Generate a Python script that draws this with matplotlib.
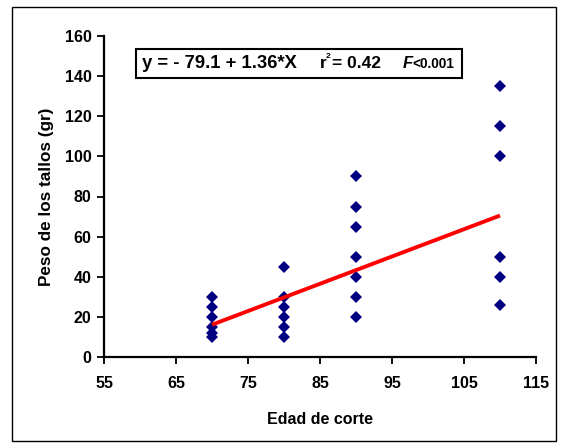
import matplotlib
matplotlib.use("Agg")
import matplotlib.pyplot as plt
import numpy as np
from matplotlib.patches import Rectangle

plt.rcParams['font.family'] = ['Liberation Sans', 'DejaVu Sans']

# Cutting age (days) and stem weight (g)
edad = [70, 70, 70, 70, 70, 70,
        80, 80, 80, 80, 80, 80,
        90, 90, 90, 90, 90, 90, 90,
        110, 110, 110, 110, 110, 110]
peso = [30, 25, 20, 15, 12, 10,
        45, 30, 25, 20, 15, 10,
        90, 75, 65, 50, 40, 30, 20,
        135, 115, 100, 50, 40, 26]

# Fitted regression
intercepto = -79.1
pendiente = 1.36
x_ajuste = [70, 110]

x_ticks = [55, 65, 75, 85, 95, 105, 115]
y_ticks = [0, 20, 40, 60, 80, 100, 120, 140, 160]

W, H = 563, 447
fig = plt.figure(figsize=(W / 100, H / 100), dpi=100)

# outer frame
fig.patches.append(Rectangle((12 / W, 1 - 441 / H), (556 - 12) / W, (441 - 7) / H,
                             transform=fig.transFigure, fill=False,
                             edgecolor='black', linewidth=1.0))

ax = fig.add_axes([104 / W, 1 - 357 / H, (536 - 104) / W, (357 - 36) / H])

xf = np.array(x_ajuste, dtype=float)
ax.plot(xf, intercepto + pendiente * xf, color='#ff0000', linewidth=2.8,
        solid_capstyle='butt', zorder=3)
ax.plot(edad, peso, linestyle='none', marker='D', markersize=6.2,
        color='#000080', markeredgewidth=0, zorder=2)

ax.set_xlim(55, 115)
ax.set_ylim(0, 160)
ax.set_xticks(x_ticks)
ax.set_yticks(y_ticks)
ax.spines['top'].set_visible(False)
ax.spines['right'].set_visible(False)
for s in ('left', 'bottom'):
    ax.spines[s].set_linewidth(1.6)
ax.tick_params(direction='out', length=5, width=1.3, labelsize=11.5, pad=4)
ax.tick_params(axis='x', pad=9)
for lab in ax.get_xticklabels() + ax.get_yticklabels():
    lab.set_fontweight('bold')

ax.set_xlabel('Edad de corte', fontsize=11.5, fontweight='bold', labelpad=15)
ax.set_ylabel('Peso de los tallos (gr)', fontsize=12.3, fontweight='bold', labelpad=8)

# equation box
fig.patches.append(Rectangle((136 / W, 1 - 78 / H), (462 - 136) / W, (78 - 49) / H,
                             transform=fig.transFigure, fill=False,
                             edgecolor='black', linewidth=1.5))
yt = 1 - 64 / H
fig.text(142 / W, yt, 'y = - 79.1 + 1.36*X', fontsize=13.3,
         fontweight='bold', va='center', ha='left')
fig.text(320 / W, yt, 'r', fontsize=12.5, fontweight='bold', va='center', ha='left')
fig.text(326 / W, 1 - 57 / H, '2', fontsize=6, fontweight='bold', va='center', ha='left')
fig.text(332 / W, yt, '= 0.42', fontsize=12.5, fontweight='bold', va='center', ha='left')
fig.text(403 / W, yt, 'F', fontsize=12, fontweight='bold',
         style='italic', va='center', ha='left')
fig.text(412 / W, yt, '<0.001', fontsize=9.8, fontweight='bold',
         va='center', ha='left')

fig.savefig('out.png', dpi=100)
